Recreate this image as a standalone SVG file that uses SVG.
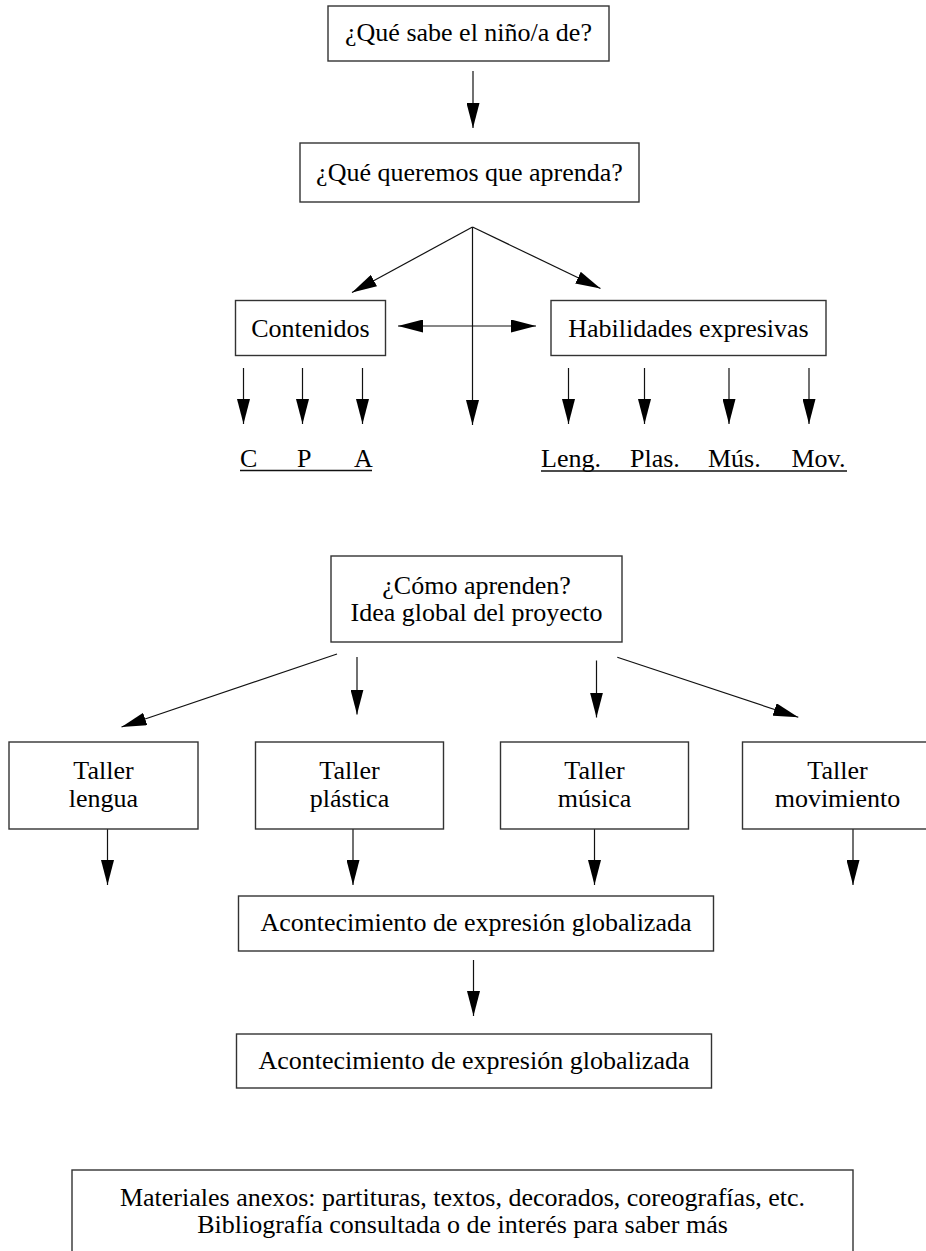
<svg xmlns="http://www.w3.org/2000/svg" width="926" height="1251" viewBox="0 0 926 1251">
<style>
.box{fill:#fff;stroke:#333;stroke-width:1.4}
.t{font-family:"Liberation Serif","Times New Roman",serif;font-size:26px;fill:#000;text-anchor:middle}
.l{font-family:"Liberation Serif","Times New Roman",serif;font-size:26px;fill:#000}
.c{stroke:#111;stroke-width:1.2;fill:none;marker-end:url(#ah)}
.u{stroke:#111;stroke-width:1.3}
</style>
<defs>
<marker id="ah" viewBox="0 0 25 13" markerWidth="25" markerHeight="13" refX="25" refY="6.5" orient="auto-start-reverse" markerUnits="userSpaceOnUse">
<path d="M0,0 L25,6.5 L0,13 Z" fill="#000"/>
</marker>
</defs>
<rect width="926" height="1251" fill="#fff"/>
<g id="connectors">
<line class="c" x1="473" y1="71" x2="473" y2="128"/>
<line class="c" x1="472.5" y1="227" x2="352" y2="292.5"/>
<line class="c" x1="472.5" y1="227" x2="600.5" y2="288.5"/>
<line class="c" x1="472.5" y1="227" x2="472.5" y2="425"/>
<line class="c" x1="398" y1="326" x2="536" y2="326" style="marker-start:url(#ah)"/>
<line class="c" x1="243.5" y1="368" x2="243.5" y2="424"/>
<line class="c" x1="302.5" y1="368" x2="302.5" y2="424"/>
<line class="c" x1="362.5" y1="368" x2="362.5" y2="424"/>
<line class="c" x1="568.5" y1="368" x2="568.5" y2="424"/>
<line class="c" x1="644.5" y1="368" x2="644.5" y2="424"/>
<line class="c" x1="729" y1="368" x2="729" y2="424"/>
<line class="c" x1="809" y1="368" x2="809" y2="424"/>
<line class="c" x1="337" y1="654" x2="121.5" y2="727"/>
<line class="c" x1="357" y1="657" x2="357" y2="714.5"/>
<line class="c" x1="596.5" y1="660.5" x2="596.5" y2="717.5"/>
<line class="c" x1="617.3" y1="657.3" x2="798.3" y2="717.3"/>
<line class="c" x1="107.5" y1="829" x2="107.5" y2="885"/>
<line class="c" x1="353" y1="829" x2="353" y2="885"/>
<line class="c" x1="594.5" y1="829" x2="594.5" y2="885"/>
<line class="c" x1="853" y1="829" x2="853" y2="885"/>
<line class="c" x1="473.5" y1="960" x2="473.5" y2="1016"/>
</g>
<g id="n1"><rect class="box" x="328" y="6" width="281" height="55"/><text class="t" x="468.5" y="41">¿Qué sabe el niño/a de?</text></g>
<g id="n2"><rect class="box" x="300" y="143" width="339" height="59"/><text class="t" x="469.5" y="181">¿Qué queremos que aprenda?</text></g>
<g id="n3"><rect class="box" x="235.5" y="300.5" width="150" height="55"/><text class="t" x="310.5" y="337">Contenidos</text></g>
<g id="n4"><rect class="box" x="551" y="300.5" width="275" height="55"/><text class="t" x="688.5" y="337">Habilidades expresivas</text></g>
<g id="n5">
<text class="l" x="240" y="466.5">C</text><text class="l" x="297" y="466.5">P</text><text class="l" x="354" y="466.5">A</text>
<line class="u" x1="240" y1="470.5" x2="372" y2="470.5"/>
</g>
<g id="n6">
<text class="l" x="541" y="466.5">Leng.</text><text class="l" x="630" y="466.5">Plas.</text><text class="l" x="708" y="466.5">Mús.</text><text class="l" x="791.5" y="466.5">Mov.</text>
<line class="u" x1="541" y1="471" x2="847" y2="471"/>
</g>
<g id="n7"><rect class="box" x="331" y="556" width="291" height="86"/><text class="t" x="476.5" y="594">¿Cómo aprenden?</text><text class="t" x="476.5" y="621">Idea global del proyecto</text></g>
<g id="n8"><rect class="box" x="9" y="742" width="189" height="87"/><text class="t" x="103.5" y="779">Taller</text><text class="t" x="103.5" y="807">lengua</text></g>
<g id="n9"><rect class="box" x="255.5" y="742" width="188" height="87"/><text class="t" x="349.5" y="779">Taller</text><text class="t" x="349.5" y="807">plástica</text></g>
<g id="n10"><rect class="box" x="500.5" y="742" width="188" height="87"/><text class="t" x="594.5" y="779">Taller</text><text class="t" x="594.5" y="807">música</text></g>
<g id="n11"><rect class="box" x="742.5" y="742" width="190" height="87"/><text class="t" x="837.5" y="779">Taller</text><text class="t" x="837.5" y="807">movimiento</text></g>
<g id="n12"><rect class="box" x="238.5" y="896" width="475" height="55"/><text class="t" x="476" y="931">Acontecimiento de expresión globalizada</text></g>
<g id="n13"><rect class="box" x="236.5" y="1034" width="475" height="54"/><text class="t" x="474" y="1069">Acontecimiento de expresión globalizada</text></g>
<g id="n14"><rect class="box" x="72" y="1170" width="781" height="100"/><text class="t" x="462.5" y="1206">Materiales anexos: partituras, textos, decorados, coreografías, etc.</text><text class="t" x="462.5" y="1233">Bibliografía consultada o de interés para saber más</text></g>
</svg>
